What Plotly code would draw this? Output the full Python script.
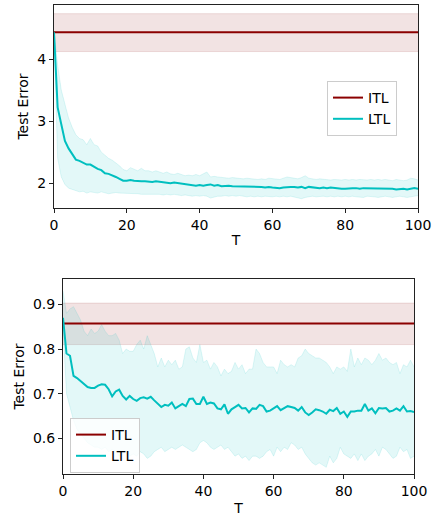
import plotly.graph_objects as go

T = list(range(101))

# ---- top panel ----
itl_top_mean = 4.43
itl_top_lo = 4.12
itl_top_hi = 4.73

ltl_top_mean = [4.43, 3.22, 2.95, 2.68, 2.56, 2.46, 2.38, 2.36, 2.33, 2.30,
                2.30, 2.26, 2.23, 2.21, 2.16, 2.15, 2.13, 2.10, 2.07, 2.04,
                2.04, 2.05, 2.04, 2.03, 2.03, 2.03, 2.02, 2.02, 2.03, 2.02,
                2.02, 2.01, 2.00, 2.01, 2.00, 1.99, 1.99, 1.98, 1.97, 1.96,
                1.97, 1.96, 1.97, 1.98, 1.96, 1.97, 1.95, 1.96, 1.96, 1.95,
                1.95, 1.95, 1.94, 1.95, 1.94, 1.95, 1.94, 1.94, 1.93, 1.94,
                1.93, 1.92, 1.92, 1.93, 1.94, 1.94, 1.94, 1.93, 1.94, 1.92,
                1.94, 1.93, 1.93, 1.92, 1.93, 1.92, 1.93, 1.92, 1.91, 1.91,
                1.91, 1.92, 1.92, 1.92, 1.91, 1.92, 1.92, 1.92, 1.91, 1.92,
                1.91, 1.92, 1.91, 1.91, 1.90, 1.91, 1.91, 1.90, 1.91, 1.92,
                1.91]
ltl_top_hi = [4.45, 3.90, 3.50, 3.25, 3.05, 2.90, 2.78, 2.72, 2.70, 2.62,
              2.72, 2.62, 2.60, 2.50, 2.45, 2.40, 2.37, 2.33, 2.28, 2.22,
              2.20, 2.25, 2.22, 2.20, 2.24, 2.20, 2.20, 2.18, 2.20, 2.18,
              2.16, 2.18, 2.15, 2.14, 2.16, 2.14, 2.12, 2.13, 2.12, 2.14,
              2.12, 2.15, 2.18, 2.10, 2.11, 2.10, 2.09, 2.09, 2.08, 2.09,
              2.08, 2.08, 2.07, 2.08, 2.07, 2.07, 2.06, 2.07, 2.06, 2.08,
              2.07, 2.06, 2.06, 2.08, 2.10, 2.09, 2.08, 2.07, 2.09, 2.12,
              2.08, 2.07, 2.06, 2.07, 2.06, 2.06, 2.05, 2.06, 2.05, 2.05,
              2.06, 2.05, 2.06, 2.05, 2.06, 2.05, 2.05, 2.06, 2.05, 2.06,
              2.05, 2.06, 2.05, 2.04, 2.06, 2.05, 2.04, 2.05, 2.08, 2.07,
              2.05]
ltl_top_lo = [4.40, 2.40, 2.10, 1.98, 1.92, 1.90, 1.88, 1.86, 1.87, 1.84,
              1.86, 1.85, 1.84, 1.86, 1.84, 1.83, 1.84, 1.85, 1.84, 1.84,
              1.83, 1.83, 1.84, 1.83, 1.82, 1.82, 1.83, 1.82, 1.82, 1.82,
              1.81, 1.82, 1.81, 1.82, 1.81, 1.80, 1.81, 1.80, 1.79, 1.80,
              1.79, 1.80, 1.79, 1.76, 1.78, 1.79, 1.79, 1.80, 1.79, 1.80,
              1.79, 1.80, 1.79, 1.78, 1.79, 1.78, 1.79, 1.78, 1.79, 1.78,
              1.78, 1.79, 1.78, 1.79, 1.78, 1.79, 1.78, 1.77, 1.75, 1.77,
              1.78, 1.79, 1.78, 1.79, 1.79, 1.78, 1.79, 1.78, 1.79, 1.78,
              1.79, 1.78, 1.79, 1.78, 1.78, 1.77, 1.79, 1.79, 1.78, 1.77,
              1.78, 1.79, 1.78, 1.77, 1.78, 1.79, 1.78, 1.77, 1.78, 1.79,
              1.80]

# ---- bottom panel ----
itl_bot_mean = 0.857
itl_bot_lo = 0.810
itl_bot_hi = 0.903

ltl_bot_mean = [0.870, 0.790, 0.785, 0.740, 0.735, 0.728, 0.720, 0.715, 0.713, 0.713,
                0.718, 0.721, 0.720, 0.710, 0.694, 0.705, 0.709, 0.695, 0.687, 0.695,
                0.688, 0.684, 0.690, 0.692, 0.689, 0.693, 0.685, 0.678, 0.670, 0.675,
                0.673, 0.680, 0.667, 0.672, 0.677, 0.672, 0.688, 0.689, 0.677, 0.677,
                0.693, 0.677, 0.680, 0.678, 0.667, 0.665, 0.676, 0.655, 0.665, 0.670,
                0.675, 0.667, 0.668, 0.658, 0.667, 0.666, 0.675, 0.672, 0.660, 0.662,
                0.668, 0.672, 0.663, 0.668, 0.672, 0.670, 0.668, 0.662, 0.670, 0.658,
                0.652, 0.658, 0.665, 0.663, 0.660, 0.655, 0.664, 0.661, 0.668, 0.655,
                0.660, 0.648, 0.660, 0.660, 0.662, 0.662, 0.677, 0.662, 0.667, 0.656,
                0.668, 0.667, 0.668, 0.660, 0.662, 0.667, 0.662, 0.672, 0.660, 0.661,
                0.659]
ltl_bot_hi = [0.930, 0.880, 0.890, 0.895, 0.880, 0.865, 0.840, 0.830, 0.845, 0.835,
              0.840, 0.855, 0.840, 0.830, 0.830, 0.835, 0.820, 0.790, 0.800, 0.795,
              0.795, 0.810, 0.820, 0.800, 0.830, 0.810, 0.790, 0.760, 0.780, 0.760,
              0.775, 0.765, 0.775, 0.755, 0.760, 0.800, 0.805, 0.780, 0.770, 0.810,
              0.770, 0.775, 0.755, 0.770, 0.760, 0.740, 0.755, 0.745, 0.750, 0.770,
              0.755, 0.765, 0.745, 0.755, 0.755, 0.800, 0.790, 0.770, 0.760, 0.760,
              0.760, 0.745, 0.775, 0.765, 0.760, 0.765, 0.760, 0.780, 0.785, 0.800,
              0.790, 0.785, 0.780, 0.780, 0.775, 0.770, 0.760, 0.745, 0.760, 0.755,
              0.760, 0.750, 0.800, 0.760, 0.780, 0.765, 0.780, 0.775, 0.765, 0.775,
              0.790, 0.775, 0.780, 0.770, 0.765, 0.770, 0.745, 0.765, 0.760, 0.775,
              0.760]
ltl_bot_lo = [0.850, 0.700, 0.670, 0.640, 0.620, 0.610, 0.600, 0.590, 0.585, 0.580,
              0.580, 0.575, 0.580, 0.570, 0.575, 0.570, 0.560, 0.565, 0.570, 0.560,
              0.565, 0.560, 0.570, 0.565, 0.555, 0.560, 0.570, 0.575, 0.580, 0.570,
              0.575, 0.580, 0.575, 0.580, 0.585, 0.580, 0.575, 0.570, 0.575, 0.590,
              0.595, 0.590, 0.580, 0.575, 0.580, 0.585, 0.575, 0.580, 0.570, 0.560,
              0.565, 0.555, 0.560, 0.550, 0.560, 0.560, 0.555, 0.560, 0.570, 0.575,
              0.560, 0.580, 0.570, 0.580, 0.575, 0.590, 0.585, 0.575, 0.580, 0.565,
              0.555, 0.545, 0.540, 0.545, 0.540, 0.535, 0.560, 0.545, 0.555, 0.580,
              0.565, 0.560, 0.555, 0.565, 0.550, 0.565, 0.550, 0.560, 0.565, 0.575,
              0.560, 0.580, 0.575, 0.565, 0.555, 0.560, 0.580, 0.570, 0.575, 0.555,
              0.560]

x_ticks = [0, 20, 40, 60, 80, 100]
y_top_ticks = [2, 3, 4]
y_bot_ticks = [0.6, 0.7, 0.8, 0.9]

ITL_C = "#8B0000"
LTL_C = "#00BFBF"
ITL_F = "rgba(139,0,0,0.11)"
ITL_E = "rgba(139,0,0,0.12)"
LTL_F = "rgba(0,191,191,0.11)"
LTL_E = "rgba(0,191,191,0.12)"

W, H = 433, 518
fig = go.Figure()


def add_panel(xa, ya, legend, itl_m, itl_lo, itl_hi, m, lo, hi):
    n = len(T)
    # ITL band
    fig.add_trace(go.Scatter(x=T, y=[itl_lo] * n, mode="lines", line=dict(color=ITL_E, width=1),
                             showlegend=False, hoverinfo="skip", xaxis=xa, yaxis=ya))
    fig.add_trace(go.Scatter(x=T, y=[itl_hi] * n, mode="lines", line=dict(color=ITL_E, width=1),
                             fill="tonexty", fillcolor=ITL_F,
                             showlegend=False, hoverinfo="skip", xaxis=xa, yaxis=ya))
    # LTL band
    fig.add_trace(go.Scatter(x=T, y=lo, mode="lines", line=dict(color=LTL_E, width=1),
                             showlegend=False, hoverinfo="skip", xaxis=xa, yaxis=ya))
    fig.add_trace(go.Scatter(x=T, y=hi, mode="lines", line=dict(color=LTL_E, width=1),
                             fill="tonexty", fillcolor=LTL_F,
                             showlegend=False, hoverinfo="skip", xaxis=xa, yaxis=ya))
    fig.add_trace(go.Scatter(x=T, y=[itl_m] * n, mode="lines", name="ITL",
                             line=dict(color=ITL_C, width=2), legend=legend, xaxis=xa, yaxis=ya))
    fig.add_trace(go.Scatter(x=T, y=m, mode="lines", name="LTL",
                             line=dict(color=LTL_C, width=2), legend=legend, xaxis=xa, yaxis=ya))


add_panel("x", "y", "legend", itl_top_mean, itl_top_lo, itl_top_hi, ltl_top_mean, ltl_top_lo, ltl_top_hi)
add_panel("x2", "y2", "legend2", itl_bot_mean, itl_bot_lo, itl_bot_hi, ltl_bot_mean, ltl_bot_lo, ltl_bot_hi)

TICKFONT = dict(family="DejaVu Sans", size=14, color="#000")
TITLEFONT = dict(family="DejaVu Sans", size=14, color="#000")
LEGFONT = dict(family="DejaVu Sans", size=14, color="#000")
axis_common = dict(showline=True, mirror=True, linecolor="#222", linewidth=1,
                   ticks="outside", ticklen=4, tickwidth=1, tickcolor="#222",
                   showgrid=False, zeroline=False, tickfont=TICKFONT, automargin=False)

fig.update_layout(
    width=W, height=H,
    margin=dict(l=0, r=0, t=0, b=0, autoexpand=False),
    paper_bgcolor="white", plot_bgcolor="white",
    font=TICKFONT,
    xaxis=dict(domain=[54 / W, 418 / W], range=[0, 100], tickvals=x_ticks,
               title=dict(text="T", font=TITLEFONT, standoff=3), anchor="y", **axis_common),
    yaxis=dict(domain=[1 - 208 / H, 1 - 5 / H], range=[1.60, 4.87], tickvals=y_top_ticks,
               title=dict(text="Test Error", font=TITLEFONT, standoff=5), anchor="x", **axis_common),
    xaxis2=dict(domain=[63 / W, 414 / W], range=[0, 100], tickvals=x_ticks,
                title=dict(text="T", font=TITLEFONT, standoff=5), anchor="y2", **axis_common),
    yaxis2=dict(domain=[1 - 474 / H, 1 - 279 / H], range=[0.52, 0.957], tickvals=y_bot_ticks,
                title=dict(text="Test Error", font=TITLEFONT, standoff=5), anchor="x2", **axis_common),
    legend=dict(x=327 / W, y=1 - 81 / H, xanchor="left", yanchor="top", traceorder="normal",
                bgcolor="rgba(255,255,255,0.8)", bordercolor="#ccc", borderwidth=1,
                font=LEGFONT, tracegroupgap=0),
    legend2=dict(x=70 / W, y=1 - 418 / H, xanchor="left", yanchor="top", traceorder="normal",
                 bgcolor="rgba(255,255,255,0.8)", bordercolor="#ccc", borderwidth=1,
                 font=LEGFONT, tracegroupgap=0),
)

fig.write_html("out.html", config={"displayModeBar": False},
               post_script="document.body.style.margin='0';document.body.style.overflow='hidden';")
